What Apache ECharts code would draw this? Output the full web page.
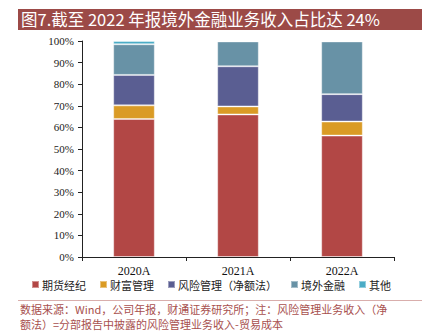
<!DOCTYPE html>
<html>
<head>
<meta charset="utf-8">
<script src="https://cdn.jsdelivr.net/npm/echarts@6/dist/echarts.min.js"></script>
<style>
  html, body { margin: 0; padding: 0; background: #fff; }
  #chart { width: 422px; height: 331px; }
</style>
</head>
<body>
<div id="chart"></div>
<script>
// Revenue mix by business line, share of total (%)
const years = ['2020A', '2021A', '2022A'];
const futuresBrokerage = [63.9, 66.0, 56.2];   // 期货经纪
const wealthMgmt = [6.3, 3.7, 6.5];            // 财富管理
const riskMgmt = [14.1, 18.6, 12.7];           // 风险管理（净额法）
const overseasFinance = [14.2, 11.5, 24.4];    // 境外金融
const others = [1.5, 0.2, 0.2];                // 其他
const seriesNames = ['期货经纪', '财富管理', '风险管理（净额法）', '境外金融', '其他'];
const yTicks = [0, 10, 20, 30, 40, 50, 60, 70, 80, 90, 100];

const colors = ['#B24745', '#DA9B25', '#5A5E92', '#6892A6', '#4BACC6'];
const serif = '"Liberation Serif", "DejaVu Serif", "Noto Sans CJK SC", serif';
const cjk = '"Noto Sans CJK SC", "Liberation Serif", serif';

const chart = echarts.init(document.getElementById('chart'), null, { renderer: 'svg' });

const values = [futuresBrokerage, wealthMgmt, riskMgmt, overseasFinance, others];

chart.setOption({
  animation: false,
  color: colors,
  grid: { left: 82, right: 28, top: 41, bottom: 74 },
  legend: {
    data: seriesNames,
    bottom: 36,
    left: 'center',
    itemWidth: 7,
    itemHeight: 7,
    itemGap: 13,
    icon: 'rect',
    textStyle: { fontFamily: cjk, fontSize: 11, color: '#222', padding: [0, 0, 0, -2] }
  },
  xAxis: {
    type: 'category',
    data: years,
    axisLine: { lineStyle: { color: '#222', width: 1 } },
    axisTick: { show: true, length: 4, lineStyle: { color: '#222' } },
    axisLabel: { fontFamily: serif, fontSize: 12, color: '#111', margin: 8 }
  },
  yAxis: {
    type: 'value',
    min: yTicks[0],
    max: yTicks[yTicks.length - 1],
    interval: 10,
    axisLine: { show: true, lineStyle: { color: '#222', width: 1 } },
    axisTick: { show: true, length: 4, lineStyle: { color: '#222' } },
    splitLine: { show: false },
    axisLabel: { fontFamily: serif, fontSize: 11, color: '#222', margin: 8, formatter: '{value}%' }
  },
  series: values.map((arr, i) => ({
    name: seriesNames[i],
    type: 'bar',
    stack: 'share',
    barWidth: '40%',
    data: arr,
    itemStyle: { borderColor: 'rgba(255,255,255,0.4)', borderWidth: 1 }
  })),
  graphic: [
    {
      type: 'rect',
      shape: { x: 18, y: 9, width: 404, height: 21 },
      style: { fill: '#9C4A47' },
      silent: true
    },
    {
      type: 'text',
      x: 21,
      y: 11,
      style: {
        text: '图7.截至 2022 年报境外金融业务收入占比达 24%',
        fill: '#fff',
        font: '16.5px ' + cjk
      },
      silent: true
    },
    {
      type: 'rect',
      shape: { x: 18, y: 300, width: 404, height: 1 },
      style: { fill: '#D9AEAC' },
      silent: true
    },
    {
      type: 'text',
      x: 20,
      y: 303,
      style: {
        text: '数据来源：Wind，公司年报，财通证券研究所；注：风险管理业务收入（净',
        fill: '#A8504E',
        font: '11px ' + cjk
      },
      silent: true
    },
    {
      type: 'text',
      x: 20,
      y: 318,
      style: {
        text: '额法）=分部报告中披露的风险管理业务收入-贸易成本',
        fill: '#A8504E',
        font: '11px ' + cjk
      },
      silent: true
    }
  ]
});
</script>
</body>
</html>
